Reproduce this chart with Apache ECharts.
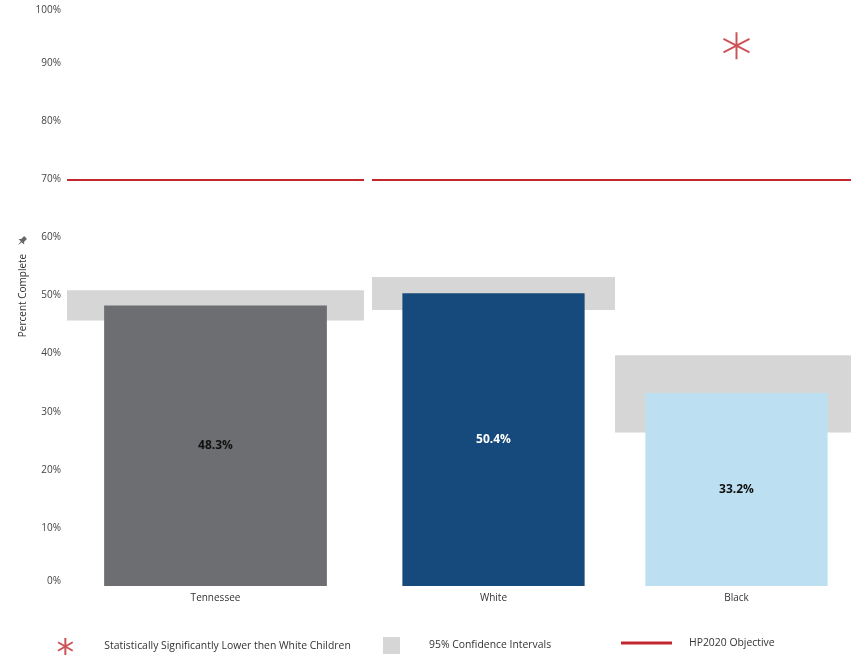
<!DOCTYPE html>
<html>
<head>
<meta charset="utf-8">
<script src="https://cdn.jsdelivr.net/npm/echarts@6/dist/echarts.min.js"></script>
<style>
  html, body { margin: 0; padding: 0; background: #fff; overflow: hidden; }
  /* the right-hand panel runs slightly past the visible edge */
  #chart { width: 858px; height: 656px; }
</style>
</head>
<body>
<div id="chart"></div>
<script>
// Childhood immunization completion, with 95% confidence intervals
const categories = ['Tennessee', 'White', 'Black'];
const percentComplete = [48.3, 50.4, 33.2];
const ciLower = [45.7, 47.5, 26.4];
const ciUpper = [50.9, 53.2, 39.7];
const sigLowerThanWhite = [false, false, true];
const hp2020Objective = 70;
const yTicks = [0, 10, 20, 30, 40, 50, 60, 70, 80, 90, 100];

// styling
const barColors = ['#6d6e71', '#174a7c', '#bcdff1'];
const labelColors = ['#111111', '#ffffff', '#111111'];
const ciColor = '#d6d6d6';
const red = '#c1272d';
const font = 'Open Sans';
const markerLevel = 93;
const asteriskPath = 'path://M10,0 L10,20 M1.34,5 L18.66,15 M1.34,15 L18.66,5';

// Tennessee sits in its own panel; the two race groups share the second one
const panels = [[0], [1, 2]];
const sigName = 'Statistically Significantly Lower then White Children';
const ciName = '95% Confidence Intervals';
const objName = 'HP2020 Objective';

const grids = [
  { left: 67, top: 5, width: 297, height: 581 },
  { left: 372, top: 5, width: 486, height: 581 }
];

const xAxes = panels.map((idx, p) => ({
  type: 'category',
  gridIndex: p,
  data: idx.map(i => categories[i]),
  axisLine: { show: false },
  axisTick: { show: false },
  axisLabel: { color: '#333', fontFamily: font, fontSize: 10, margin: 7 }
}));

const yAxes = panels.map((idx, p) => ({
  type: 'value',
  gridIndex: p,
  min: yTicks[0],
  max: yTicks[yTicks.length - 1],
  interval: yTicks[1] - yTicks[0],
  splitLine: { show: false },
  axisLine: { show: false },
  axisTick: { show: false },
  axisLabel: {
    show: p === 0,
    formatter: '{value}%',
    color: '#444',
    fontFamily: font,
    fontSize: 10,
    margin: 6,
    verticalAlignMaxLabel: 'top',
    verticalAlignMinLabel: 'bottom'
  },
  name: p === 0 ? 'Percent Complete' : '',
  nameLocation: 'middle',
  nameRotate: 90,
  nameGap: 39,
  nameTextStyle: { color: '#333', fontFamily: font, fontSize: 10 }
}));

const series = [];
panels.forEach((idx, p) => {
  // confidence interval bands spanning the full category slot
  series.push({
    name: ciName,
    type: 'custom',
    xAxisIndex: p,
    yAxisIndex: p,
    z: 1,
    itemStyle: { color: ciColor },
    data: idx.map((i, k) => [k, ciLower[i], ciUpper[i]]),
    renderItem: function (params, api) {
      const top = api.coord([api.value(0), api.value(2)]);
      const bottom = api.coord([api.value(0), api.value(1)]);
      const w = api.size([1, 0])[0];
      return {
        type: 'rect',
        shape: { x: top[0] - w / 2, y: top[1], width: w, height: bottom[1] - top[1] },
        style: { fill: ciColor }
      };
    }
  });
  // estimates
  series.push({
    name: 'Percent Complete',
    type: 'bar',
    xAxisIndex: p,
    yAxisIndex: p,
    z: 2,
    barWidth: '75%',
    data: idx.map(i => ({
      value: percentComplete[i],
      itemStyle: { color: barColors[i] },
      label: { color: labelColors[i] }
    })),
    label: {
      show: true,
      position: 'inside',
      formatter: '{c}%',
      fontFamily: font,
      fontWeight: 'bold',
      fontSize: 12
    }
  });
  // Healthy People 2020 target
  series.push({
    name: objName,
    type: 'line',
    xAxisIndex: p,
    yAxisIndex: p,
    z: 3,
    data: [],
    itemStyle: { color: red },
    lineStyle: { color: red, width: 2 },
    markLine: {
      silent: true,
      symbol: 'none',
      label: { show: false },
      lineStyle: { color: red, width: 2, type: 'solid' },
      data: [{ yAxis: hp2020Objective }]
    }
  });
  // significance markers
  series.push({
    name: sigName,
    type: 'scatter',
    xAxisIndex: p,
    yAxisIndex: p,
    z: 4,
    symbol: asteriskPath,
    symbolSize: [26, 27],
    itemStyle: { color: 'transparent', borderColor: red, borderWidth: 2 },
    data: idx.map((i, k) => sigLowerThanWhite[i] ? [k, markerLevel] : null).filter(d => d)
  });
});

const legendText = { color: '#333', fontFamily: font, fontSize: 10.4 };
const legends = [
  {
    left: 57, top: 637, padding: 0, selectedMode: false,
    itemWidth: 18, itemHeight: 17,
    data: [{ name: sigName, icon: asteriskPath,
      itemStyle: { color: 'transparent', borderColor: red, borderWidth: 2 } }],
    textStyle: Object.assign({ padding: [0, 0, 0, 25] }, legendText)
  },
  {
    left: 383, top: 637, padding: 0, selectedMode: false,
    itemWidth: 17, itemHeight: 17,
    data: [{ name: ciName, icon: 'rect' }],
    textStyle: Object.assign({ padding: [0, 0, 0, 24] }, legendText)
  },
  {
    left: 621, top: 638, padding: 0, selectedMode: false,
    itemWidth: 51, itemHeight: 3,
    data: [{ name: objName, icon: 'rect', itemStyle: { color: red } }],
    textStyle: Object.assign({ padding: [0, 0, 0, 12] }, legendText)
  }
];

const chart = echarts.init(document.getElementById('chart'), null, { renderer: 'canvas' });
chart.setOption({
  animation: false,
  backgroundColor: '#ffffff',
  grid: grids,
  xAxis: xAxes,
  yAxis: yAxes,
  legend: legends,
  series: series,
  graphic: [{
    // pushpin next to the axis title
    type: 'polygon',
    x: 22, y: 241,
    rotation: -Math.PI / 4,
    shape: { points: [[-2, -5], [2, -5], [2, -1], [4, 1], [0.6, 1], [0, 6], [-0.6, 1], [-4, 1], [-2, -1]] },
    style: { fill: '#666' }
  }]
});
</script>
</body>
</html>
